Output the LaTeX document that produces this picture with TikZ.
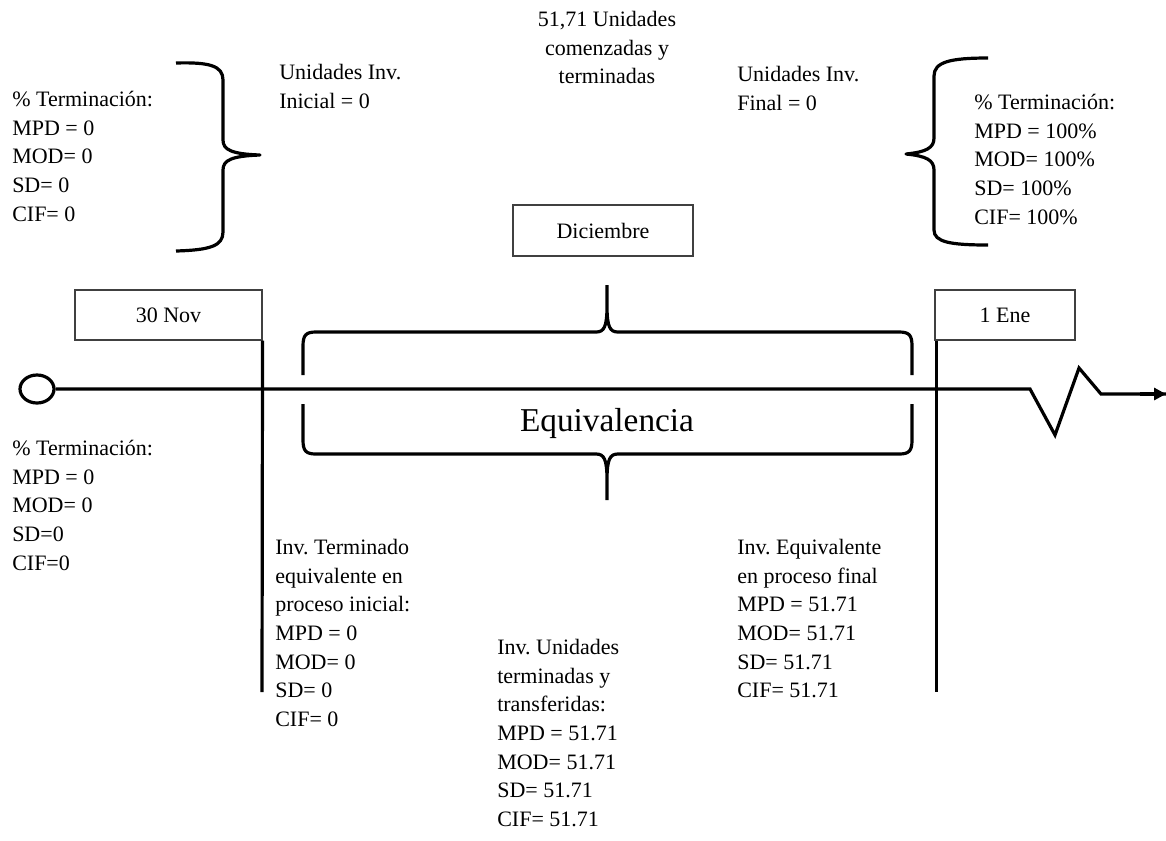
\documentclass[tikz,border=0pt]{standalone}
\usepackage{fontspec}
\setmainfont{Liberation Serif}
\usetikzlibrary{arrows.meta,shapes.geometric}
\frenchspacing
\begin{document}
\begin{tikzpicture}[x=0.75pt,y=-0.75pt,
  txt/.style={font=\fontsize{16.5}{21.5}\selectfont, inner sep=0pt, align=left, anchor=north west},
  datebox/.style={draw=black!75, line width=0.8pt, font=\fontsize{16.5}{21.5}\selectfont, inner sep=0pt},
  thickline/.style={line width=2.4pt},
  bracel/.style={line width=2.4pt, line join=round}]
\useasboundingbox (0,0) rectangle (1166,840);

% boxes
\node[datebox, minimum width=187*0.75pt, minimum height=50*0.75pt] (nov) at (168.5,315) {30 Nov};
\node[datebox, minimum width=140*0.75pt, minimum height=50*0.75pt] (ene) at (1005,315) {1 Ene};
\node[datebox, minimum width=180*0.75pt, minimum height=51*0.75pt] (dic) at (603,230.5) {Diciembre};

% main timeline
\node[draw, thickline, ellipse, minimum width=34*0.75pt, minimum height=28*0.75pt, inner sep=0pt] (start) at (37,389) {};
\coordinate (z1) at (1030,389);
\coordinate (z2) at (1055,435);
\coordinate (z3) at (1079,368);
\coordinate (z4) at (1101,394);
\coordinate (endp) at (1166,394);
\draw[thickline, line join=miter] (start.east) -- (z1) -- (z2) -- (z3) -- (z4) -- (endp);
\draw[thickline, -{Triangle[length=9pt,width=9pt]}] (1140,394) -- (endp);

% vertical lines
\coordinate (v1b) at (262,692);
\coordinate (v2b) at (937,692);
\draw[thickline] (nov.south east) -- (v1b);
\draw[line width=2.4pt] (ene.south west) ++(2,0) coordinate (v2t) -- (v2t |- v2b);

% left vertical brace  }
\draw[bracel] (176,63) .. controls (210,62) and (223,66) .. (223,80) -- (223,140)
  .. controls (223,150) and (232,154) .. (260,155)
  .. controls (232,156) and (223,160) .. (223,170) -- (223,232)
  .. controls (223,246) and (210,250) .. (176,251);

% right vertical brace  {
\draw[bracel] (988,58) .. controls (950,58) and (934,62) .. (934,76) -- (934,138)
  .. controls (934,148) and (926,152) .. (906,154)
  .. controls (926,156) and (934,160) .. (934,170) -- (934,230)
  .. controls (934,242) and (950,245) .. (988,245);

% upper horizontal brace
\draw[bracel] (303,375) -- (303,346) .. controls (303,335) and (306,332) .. (316,332)
  -- (596,332) .. controls (604,332) and (607,327) .. (607,306) -- (607,285)
  (607,306) .. controls (607,327) and (610,332) .. (618,332)
  -- (899,332) .. controls (909,332) and (912,335) .. (912,346) -- (912,375);

% lower horizontal brace
\draw[bracel] (303,404) -- (303,440) .. controls (303,451) and (306,454) .. (316,454)
  -- (596,454) .. controls (604,454) and (607,459) .. (607,480) -- (607,500)
  (607,480) .. controls (607,459) and (610,454) .. (618,454)
  -- (899,454) .. controls (909,454) and (912,451) .. (912,440) -- (912,404);

\node[font=\fontsize{25}{29}\selectfont, inner sep=0pt] (equiv) at (607,423) {Equivalencia};

% texts
\node[txt] (tl) at (12,91) {\% Terminación:\\MPD = 0\\MOD= 0\\SD= 0\\CIF= 0};
\node[txt] (uii) at (279,64) {Unidades Inv.\\Inicial = 0};
\node[txt, align=center, anchor=north] (uct) at (607,11) {51,71 Unidades\\comenzadas y\\terminadas};
\node[txt] (uif) at (737,66) {Unidades Inv.\\Final = 0};
\node[txt] (tr) at (974,94) {\% Terminación:\\MPD = 100\%\\MOD= 100\%\\SD= 100\%\\CIF= 100\%};
\node[txt] (bl) at (12,440) {\% Terminación:\\MPD = 0\\MOD= 0\\SD=0\\CIF=0};
\node[txt] (iti) at (275,539) {Inv. Terminado\\equivalente en\\proceso inicial:\\MPD = 0\\MOD= 0\\SD= 0\\CIF= 0};
\node[txt] (iut) at (497,639) {Inv. Unidades\\terminadas y\\transferidas:\\MPD = 51.71\\MOD= 51.71\\SD= 51.71\\CIF= 51.71};
\node[txt] (ief) at (737,539) {Inv. Equivalente\\en proceso final\\MPD = 51.71\\MOD= 51.71\\SD= 51.71\\CIF= 51.71};
\end{tikzpicture}
\end{document}
